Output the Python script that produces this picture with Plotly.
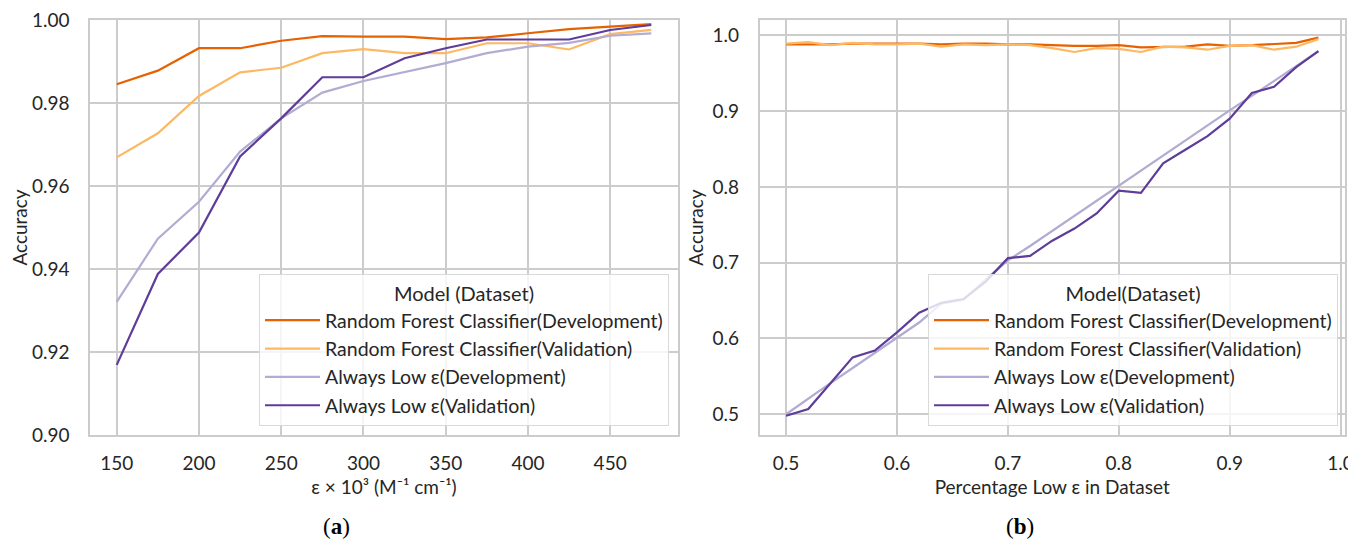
import plotly.graph_objects as go

# ---------- data: panel (a) ----------
eps_x = [150, 175, 200, 225, 250, 275, 300, 325, 350, 375, 400, 425, 450, 475]
a_rf_dev = [0.9845, 0.9878, 0.9932, 0.9932, 0.9950, 0.9961, 0.9960, 0.9960, 0.9954, 0.9958, 0.9968, 0.9978, 0.9984, 0.9990]
a_rf_val = [0.9669, 0.9727, 0.9817, 0.9874, 0.9885, 0.9920, 0.9930, 0.9920, 0.9920, 0.9944, 0.9944, 0.9929, 0.9966, 0.9976]
a_low_dev = [0.9321, 0.9473, 0.9562, 0.9683, 0.9763, 0.9825, 0.9853, 0.9875, 0.9896, 0.9920, 0.9936, 0.9945, 0.9962, 0.9968]
a_low_val = [0.9169, 0.9388, 0.9488, 0.9671, 0.9763, 0.9862, 0.9862, 0.9908, 0.9932, 0.9953, 0.9953, 0.9953, 0.9976, 0.9988]

# ---------- data: panel (b) ----------
pct_x = [0.50, 0.52, 0.54, 0.56, 0.58, 0.60, 0.62, 0.64, 0.66, 0.68, 0.70, 0.72, 0.74,
         0.76, 0.78, 0.80, 0.82, 0.84, 0.86, 0.88, 0.90, 0.92, 0.94, 0.96, 0.98]
b_rf_dev = [0.988, 0.988, 0.988, 0.989, 0.989, 0.989, 0.989, 0.988, 0.989, 0.989, 0.988, 0.988, 0.987,
            0.986, 0.986, 0.987, 0.984, 0.985, 0.985, 0.988, 0.986, 0.987, 0.988, 0.990, 0.997]
b_rf_val = [0.989, 0.991, 0.987, 0.990, 0.988, 0.988, 0.989, 0.985, 0.988, 0.987, 0.988, 0.987, 0.983,
            0.978, 0.983, 0.982, 0.978, 0.985, 0.984, 0.981, 0.986, 0.987, 0.981, 0.985, 0.995]
b_low_dev = [0.500, 0.521, 0.541, 0.561, 0.581, 0.601, 0.621, 0.646, 0.651, 0.678, 0.703, 0.722, 0.742,
             0.762, 0.782, 0.802, 0.822, 0.842, 0.861, 0.881, 0.901, 0.920, 0.940, 0.960, 0.979]
b_low_val = [0.498, 0.507, 0.541, 0.575, 0.584, 0.608, 0.634, 0.647, 0.652, 0.675, 0.706, 0.709, 0.729,
             0.745, 0.765, 0.795, 0.792, 0.831, 0.849, 0.867, 0.890, 0.924, 0.932, 0.958, 0.979]

a_y_ticks = [0.90, 0.92, 0.94, 0.96, 0.98, 1.00]
a_x_ticks = [150, 200, 250, 300, 350, 400, 450]
b_y_ticks = [0.5, 0.6, 0.7, 0.8, 0.9, 1.0]
b_x_ticks = [0.5, 0.6, 0.7, 0.8, 0.9, 1.0]

names = ["Random Forest Classifier(Development)", "Random Forest Classifier(Validation)",
         "Always Low ε(Development)", "Always Low ε(Validation)"]
colors = ["#e66101", "#fdb863", "#b2abd2", "#5e3c99"]

FONT = "Lato"
TXT = "#262626"
GRID = "#cccccc"

fig = go.Figure()
for nm, col, ys in zip(names, colors, [a_rf_dev, a_rf_val, a_low_dev, a_low_val]):
    fig.add_trace(go.Scatter(x=eps_x, y=ys, mode="lines", name=nm, line=dict(color=col, width=2.2),
                             xaxis="x", yaxis="y", legend="legend"))
for nm, col, ys in zip(names, colors, [b_rf_dev, b_rf_val, b_low_dev, b_low_val]):
    fig.add_trace(go.Scatter(x=pct_x, y=ys, mode="lines", name=nm, line=dict(color=col, width=2.2),
                             xaxis="x2", yaxis="y2", legend="legend2"))

# page body has an 8px margin: figure is drawn 8px in from the top-left corner
OFF = 8
W, H = 1356 - OFF, 542 - OFF
def px_x(p): return (p - OFF) / W
def px_y(p): return 1 - (p - OFF) / H

axis_common = dict(showgrid=True, gridcolor=GRID, gridwidth=1.5, showline=True, linecolor=GRID,
                   linewidth=1.5, mirror=True, zeroline=False, ticks="outside",
                   tickcolor="rgba(0,0,0,0)", automargin=False, ticklabeloverflow="allow",
                   tickfont=dict(family=FONT, size=19, color=TXT))
xaxis_common = dict(ticklen=10, **axis_common)
yaxis_common = dict(ticklen=15, **axis_common)

leg_common = dict(bgcolor="rgba(255,255,255,0.8)", bordercolor="#d9d9d9", borderwidth=1,
                  font=dict(family=FONT, size=19.5, color=TXT), xanchor="left", yanchor="top",
                  traceorder="normal", itemwidth=55)

title_font = dict(family=FONT, size=19, color=TXT)

fig.update_layout(
    template="none",
    width=W, height=H, autosize=False,
    margin=dict(l=0, r=0, t=0, b=0),
    paper_bgcolor="white", plot_bgcolor="white",
    xaxis=dict(domain=[px_x(90), px_x(678)], range=[133.75, 491.25], tickvals=a_x_ticks,
               title=dict(text="ε × 10³ (M⁻¹ cm⁻¹)", font=title_font, standoff=8),
               anchor="y", **xaxis_common),
    yaxis=dict(domain=[px_y(435), px_y(20)], range=[0.9, 1.0], tickvals=a_y_ticks, tickformat=".2f",
               title=dict(text="Accuracy", font=title_font, standoff=4),
               anchor="x", **yaxis_common),
    xaxis2=dict(domain=[px_x(759.5), px_x(1345)], range=[0.476, 1.004], tickvals=b_x_ticks, tickformat=".1f",
                title=dict(text="Percentage Low ε in Dataset", font=title_font, standoff=8),
                anchor="y2", **xaxis_common),
    yaxis2=dict(domain=[px_y(435), px_y(20)], range=[0.4726, 1.0202], tickvals=b_y_ticks, tickformat=".1f",
                title=dict(text="Accuracy", font=title_font, standoff=4),
                anchor="x2", **yaxis_common),
    legend=dict(x=px_x(259), y=px_y(274), title=dict(text="Model (Dataset)", side="top center",
                font=dict(family=FONT, size=20, color=TXT)), **leg_common),
    legend2=dict(x=px_x(928), y=px_y(274), title=dict(text="Model(Dataset)", side="top center",
                 font=dict(family=FONT, size=20, color=TXT)), **leg_common),
    annotations=[
        dict(text="(<b>a</b>)", x=px_x(336), y=px_y(526), xref="paper", yref="paper", showarrow=False,
             xanchor="center", yanchor="middle",
             font=dict(family="Liberation Serif", size=23, color="black")),
        dict(text="(<b>b</b>)", x=px_x(1020), y=px_y(526), xref="paper", yref="paper", showarrow=False,
             xanchor="center", yanchor="middle",
             font=dict(family="Liberation Serif", size=23, color="black")),
    ],
)

fig.write_html("out.html")
